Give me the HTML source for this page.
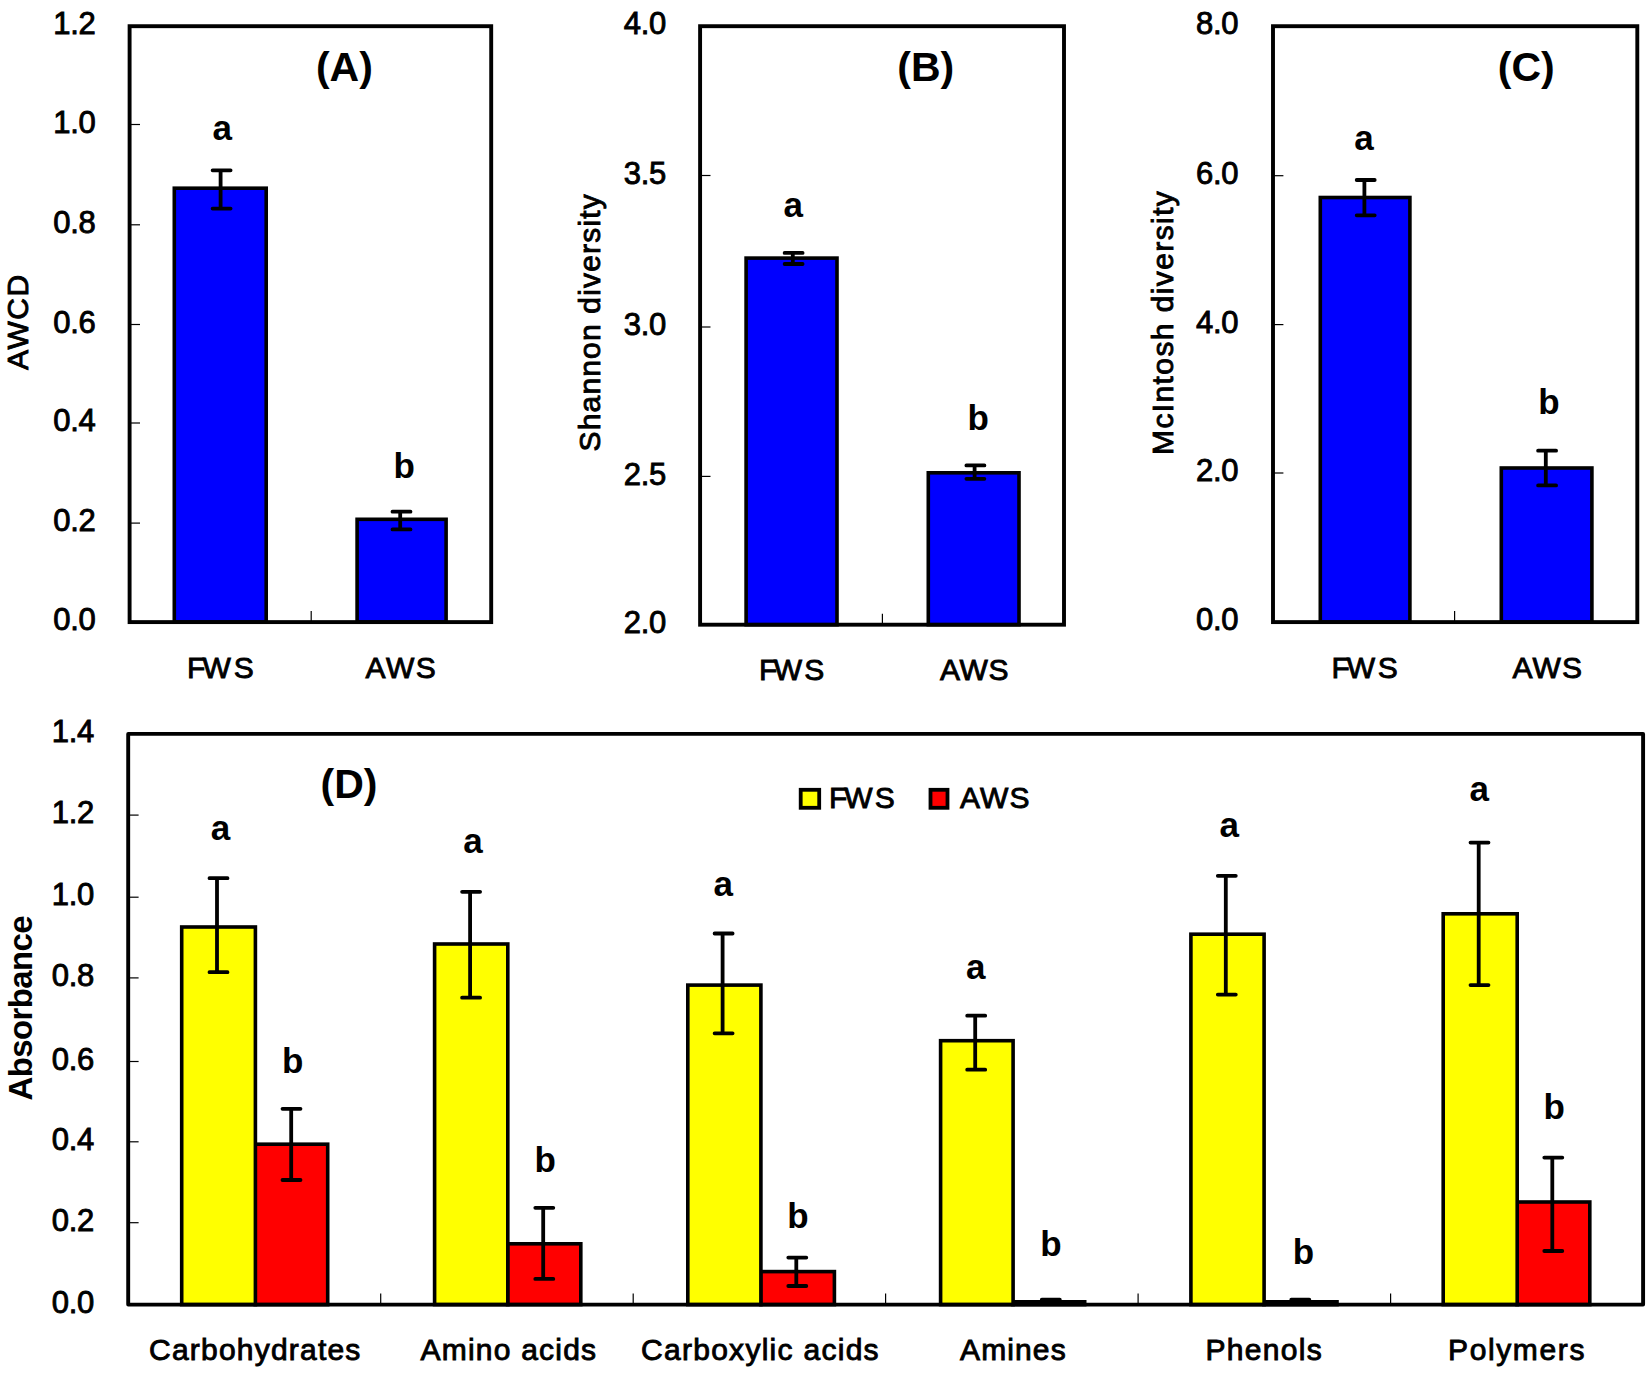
<!DOCTYPE html>
<html lang="en"><head><meta charset="utf-8"><title>Figure</title>
<style>
html,body{margin:0;padding:0;background:#fff;}
body{width:1650px;height:1378px;overflow:hidden;}
svg{display:block;}
svg text{font-family:"Liberation Sans",Arial,Helvetica,sans-serif;fill:#000;stroke:#000;stroke-width:0.9px;}
svg text.b{font-weight:bold;stroke:none;}
</style></head><body>
<svg width="1650" height="1378" viewBox="0 0 1650 1378">
<rect width="1650" height="1378" fill="#fff"/>
<line x1="129.6" y1="622.1" x2="140.0" y2="622.1" stroke="#000" stroke-width="1.2"/>
<text x="95.50" y="630.30" font-size="31" text-anchor="end" letter-spacing="-0.300">0.0</text>
<line x1="129.6" y1="523.1" x2="140.0" y2="523.1" stroke="#000" stroke-width="1.2"/>
<text x="95.50" y="531.30" font-size="31" text-anchor="end" letter-spacing="-0.300">0.2</text>
<line x1="129.6" y1="423.0" x2="140.0" y2="423.0" stroke="#000" stroke-width="1.2"/>
<text x="95.50" y="431.20" font-size="31" text-anchor="end" letter-spacing="-0.300">0.4</text>
<line x1="129.6" y1="324.5" x2="140.0" y2="324.5" stroke="#000" stroke-width="1.2"/>
<text x="95.50" y="332.70" font-size="31" text-anchor="end" letter-spacing="-0.300">0.6</text>
<line x1="129.6" y1="224.8" x2="140.0" y2="224.8" stroke="#000" stroke-width="1.2"/>
<text x="95.50" y="233.00" font-size="31" text-anchor="end" letter-spacing="-0.300">0.8</text>
<line x1="129.6" y1="124.5" x2="140.0" y2="124.5" stroke="#000" stroke-width="1.2"/>
<text x="95.50" y="132.70" font-size="31" text-anchor="end" letter-spacing="-0.300">1.0</text>
<line x1="129.6" y1="26.2" x2="140.0" y2="26.2" stroke="#000" stroke-width="1.2"/>
<text x="95.50" y="34.40" font-size="31" text-anchor="end" letter-spacing="-0.300">1.2</text>
<line x1="311.2" y1="611.1" x2="311.2" y2="622.1" stroke="#000" stroke-width="1.2"/>
<rect x="174.3" y="188.2" width="91.9" height="433.9" fill="#0000ff" stroke="#000" stroke-width="3.6"/>
<rect x="357.1" y="519.3" width="89.0" height="102.8" fill="#0000ff" stroke="#000" stroke-width="3.6"/>
<path d="M212.6 170.3H230.6M212.6 208.6H230.6M220.6 170.3V208.6" stroke="#000" stroke-width="3.8" stroke-linecap="round" fill="none"/>
<path d="M392.5 511.7H410.5M392.5 529.4H410.5M400.2 511.7V529.4" stroke="#000" stroke-width="3.8" stroke-linecap="round" fill="none"/>
<rect x="129.6" y="26.2" width="361.6" height="595.9" fill="none" stroke="#000" stroke-width="3.9"/>
<text x="222.20" y="139.90" font-size="35" text-anchor="middle" class="b">a</text>
<text x="404.20" y="478.00" font-size="35" text-anchor="middle" class="b">b</text>
<text x="344.40" y="81.40" font-size="41" text-anchor="middle" class="b">(A)</text>
<text x="187.00" y="678.30" font-size="30" text-anchor="start" dx="0 -2.8 2.8">FWS</text>
<text x="365.50" y="678.30" font-size="30" text-anchor="start" letter-spacing="1.500">AWS</text>
<text x="28.00" y="370.00" font-size="30" text-anchor="start" letter-spacing="1.534" transform="rotate(-90 28.00 370.00)">AWCD</text>
<line x1="700.1" y1="624.7" x2="710.5" y2="624.7" stroke="#000" stroke-width="1.2"/>
<text x="666.00" y="632.90" font-size="31" text-anchor="end" letter-spacing="-0.300">2.0</text>
<line x1="700.1" y1="476.4" x2="710.5" y2="476.4" stroke="#000" stroke-width="1.2"/>
<text x="666.00" y="484.60" font-size="31" text-anchor="end" letter-spacing="-0.300">2.5</text>
<line x1="700.1" y1="327.0" x2="710.5" y2="327.0" stroke="#000" stroke-width="1.2"/>
<text x="666.00" y="335.20" font-size="31" text-anchor="end" letter-spacing="-0.300">3.0</text>
<line x1="700.1" y1="175.5" x2="710.5" y2="175.5" stroke="#000" stroke-width="1.2"/>
<text x="666.00" y="183.70" font-size="31" text-anchor="end" letter-spacing="-0.300">3.5</text>
<line x1="700.1" y1="26.2" x2="710.5" y2="26.2" stroke="#000" stroke-width="1.2"/>
<text x="666.00" y="34.40" font-size="31" text-anchor="end" letter-spacing="-0.300">4.0</text>
<line x1="882.4" y1="613.7" x2="882.4" y2="624.7" stroke="#000" stroke-width="1.2"/>
<rect x="746.1" y="258.1" width="90.9" height="366.6" fill="#0000ff" stroke="#000" stroke-width="3.6"/>
<rect x="928.3" y="472.8" width="90.7" height="151.9" fill="#0000ff" stroke="#000" stroke-width="3.6"/>
<path d="M784.6 252.9H802.6M784.6 264.0H802.6M792.8 252.9V264.0" stroke="#000" stroke-width="3.8" stroke-linecap="round" fill="none"/>
<path d="M966.4 465.4H984.4M966.4 478.8H984.4M974.6 465.4V478.8" stroke="#000" stroke-width="3.8" stroke-linecap="round" fill="none"/>
<rect x="700.1" y="26.2" width="363.9" height="598.5" fill="none" stroke="#000" stroke-width="3.9"/>
<text x="793.20" y="217.20" font-size="35" text-anchor="middle" class="b">a</text>
<text x="978.20" y="429.50" font-size="35" text-anchor="middle" class="b">b</text>
<text x="925.70" y="81.10" font-size="41" text-anchor="middle" class="b">(B)</text>
<text x="759.00" y="679.90" font-size="30" text-anchor="start" letter-spacing="-0.700" dx="0 -2.8 2.8">FWS</text>
<text x="940.00" y="679.90" font-size="30" text-anchor="start" letter-spacing="0.700">AWS</text>
<text x="600.00" y="451.50" font-size="30" text-anchor="start" letter-spacing="1.174" transform="rotate(-90 600.00 451.50)">Shannon diversity</text>
<line x1="1273.0" y1="622.1" x2="1283.4" y2="622.1" stroke="#000" stroke-width="1.2"/>
<text x="1238.20" y="630.30" font-size="31" text-anchor="end" letter-spacing="-0.300">0.0</text>
<line x1="1273.0" y1="473.0" x2="1283.4" y2="473.0" stroke="#000" stroke-width="1.2"/>
<text x="1238.20" y="481.20" font-size="31" text-anchor="end" letter-spacing="-0.300">2.0</text>
<line x1="1273.0" y1="324.6" x2="1283.4" y2="324.6" stroke="#000" stroke-width="1.2"/>
<text x="1238.20" y="332.80" font-size="31" text-anchor="end" letter-spacing="-0.300">4.0</text>
<line x1="1273.0" y1="175.7" x2="1283.4" y2="175.7" stroke="#000" stroke-width="1.2"/>
<text x="1238.20" y="183.90" font-size="31" text-anchor="end" letter-spacing="-0.300">6.0</text>
<line x1="1273.0" y1="26.2" x2="1283.4" y2="26.2" stroke="#000" stroke-width="1.2"/>
<text x="1238.20" y="34.40" font-size="31" text-anchor="end" letter-spacing="-0.300">8.0</text>
<line x1="1454.6" y1="611.1" x2="1454.6" y2="622.1" stroke="#000" stroke-width="1.2"/>
<rect x="1320.3" y="197.5" width="89.6" height="424.6" fill="#0000ff" stroke="#000" stroke-width="3.6"/>
<rect x="1501.3" y="468.0" width="90.6" height="154.1" fill="#0000ff" stroke="#000" stroke-width="3.6"/>
<path d="M1356.7 180.0H1374.7M1356.7 215.3H1374.7M1364.4 180.0V215.3" stroke="#000" stroke-width="3.8" stroke-linecap="round" fill="none"/>
<path d="M1538.1 450.7H1556.1M1538.1 485.4H1556.1M1545.8 450.7V485.4" stroke="#000" stroke-width="3.8" stroke-linecap="round" fill="none"/>
<rect x="1273.0" y="26.2" width="364.3" height="595.9" fill="none" stroke="#000" stroke-width="3.9"/>
<text x="1364.00" y="149.50" font-size="35" text-anchor="middle" class="b">a</text>
<text x="1548.90" y="413.80" font-size="35" text-anchor="middle" class="b">b</text>
<text x="1526.30" y="81.10" font-size="41" text-anchor="middle" class="b">(C)</text>
<text x="1331.50" y="678.00" font-size="30" text-anchor="start" letter-spacing="-0.200" dx="0 -2.8 2.8">FWS</text>
<text x="1512.50" y="678.00" font-size="30" text-anchor="start" letter-spacing="1.100">AWS</text>
<text x="1172.50" y="455.00" font-size="30" text-anchor="start" letter-spacing="1.400" transform="rotate(-90 1172.50 455.00)">McIntosh diversity</text>
<line x1="128.2" y1="1304.6" x2="138.6" y2="1304.6" stroke="#000" stroke-width="1.2"/>
<text x="94.00" y="1312.80" font-size="31" text-anchor="end" letter-spacing="-0.300">0.0</text>
<line x1="128.2" y1="1222.7" x2="138.6" y2="1222.7" stroke="#000" stroke-width="1.2"/>
<text x="94.00" y="1230.90" font-size="31" text-anchor="end" letter-spacing="-0.300">0.2</text>
<line x1="128.2" y1="1141.8" x2="138.6" y2="1141.8" stroke="#000" stroke-width="1.2"/>
<text x="94.00" y="1150.00" font-size="31" text-anchor="end" letter-spacing="-0.300">0.4</text>
<line x1="128.2" y1="1061.5" x2="138.6" y2="1061.5" stroke="#000" stroke-width="1.2"/>
<text x="94.00" y="1069.70" font-size="31" text-anchor="end" letter-spacing="-0.300">0.6</text>
<line x1="128.2" y1="977.9" x2="138.6" y2="977.9" stroke="#000" stroke-width="1.2"/>
<text x="94.00" y="986.10" font-size="31" text-anchor="end" letter-spacing="-0.300">0.8</text>
<line x1="128.2" y1="897.2" x2="138.6" y2="897.2" stroke="#000" stroke-width="1.2"/>
<text x="94.00" y="905.40" font-size="31" text-anchor="end" letter-spacing="-0.300">1.0</text>
<line x1="128.2" y1="815.1" x2="138.6" y2="815.1" stroke="#000" stroke-width="1.2"/>
<text x="94.00" y="823.30" font-size="31" text-anchor="end" letter-spacing="-0.300">1.2</text>
<line x1="128.2" y1="733.9" x2="138.6" y2="733.9" stroke="#000" stroke-width="1.2"/>
<text x="94.00" y="742.10" font-size="31" text-anchor="end" letter-spacing="-0.300">1.4</text>
<line x1="380.7" y1="1293.6" x2="380.7" y2="1304.6" stroke="#000" stroke-width="1.2"/>
<line x1="633.2" y1="1293.6" x2="633.2" y2="1304.6" stroke="#000" stroke-width="1.2"/>
<line x1="885.6" y1="1293.6" x2="885.6" y2="1304.6" stroke="#000" stroke-width="1.2"/>
<line x1="1138.1" y1="1293.6" x2="1138.1" y2="1304.6" stroke="#000" stroke-width="1.2"/>
<line x1="1390.6" y1="1293.6" x2="1390.6" y2="1304.6" stroke="#000" stroke-width="1.2"/>
<rect x="255.2" y="1144.2" width="72.5" height="160.4" fill="#ff0000" stroke="#000" stroke-width="3.6"/>
<rect x="181.7" y="927.0" width="73.7" height="377.6" fill="#ffff00" stroke="#000" stroke-width="3.6"/>
<rect x="507.6" y="1243.8" width="73.2" height="60.8" fill="#ff0000" stroke="#000" stroke-width="3.6"/>
<rect x="434.6" y="944.0" width="73.2" height="360.6" fill="#ffff00" stroke="#000" stroke-width="3.6"/>
<rect x="760.7" y="1271.6" width="73.7" height="33.0" fill="#ff0000" stroke="#000" stroke-width="3.6"/>
<rect x="687.8" y="985.1" width="73.1" height="319.5" fill="#ffff00" stroke="#000" stroke-width="3.6"/>
<rect x="1012.9" y="1301.8" width="71.8" height="2.8" fill="#ff0000" stroke="#000" stroke-width="3.6"/>
<rect x="940.6" y="1040.7" width="72.5" height="263.9" fill="#ffff00" stroke="#000" stroke-width="3.6"/>
<rect x="1263.9" y="1301.8" width="73.1" height="2.8" fill="#ff0000" stroke="#000" stroke-width="3.6"/>
<rect x="1190.9" y="934.2" width="73.2" height="370.4" fill="#ffff00" stroke="#000" stroke-width="3.6"/>
<rect x="1517.0" y="1202.0" width="72.8" height="102.6" fill="#ff0000" stroke="#000" stroke-width="3.6"/>
<rect x="1443.2" y="913.8" width="74.0" height="390.8" fill="#ffff00" stroke="#000" stroke-width="3.6"/>
<path d="M209.5 878.2H227.5M209.5 972.2H227.5M217.0 878.2V972.2" stroke="#000" stroke-width="3.8" stroke-linecap="round" fill="none"/>
<path d="M282.5 1108.8H300.5M282.5 1180.0H300.5M291.2 1108.8V1180.0" stroke="#000" stroke-width="3.8" stroke-linecap="round" fill="none"/>
<path d="M462.1 891.8H480.1M462.1 997.7H480.1M470.1 891.8V997.7" stroke="#000" stroke-width="3.8" stroke-linecap="round" fill="none"/>
<path d="M535.3 1207.8H553.3M535.3 1278.9H553.3M543.2 1207.8V1278.9" stroke="#000" stroke-width="3.8" stroke-linecap="round" fill="none"/>
<path d="M714.6 933.5H732.6M714.6 1033.3H732.6M722.6 933.5V1033.3" stroke="#000" stroke-width="3.8" stroke-linecap="round" fill="none"/>
<path d="M788.3 1257.6H806.3M788.3 1286.0H806.3M796.3 1257.6V1286.0" stroke="#000" stroke-width="3.8" stroke-linecap="round" fill="none"/>
<path d="M967.2 1015.7H985.2M967.2 1069.7H985.2M975.2 1015.7V1069.7" stroke="#000" stroke-width="3.8" stroke-linecap="round" fill="none"/>
<path d="M1041.8 1299.6H1059.8M1041.8 1301.8H1059.8M1050.5 1299.6V1301.8" stroke="#000" stroke-width="3.8" stroke-linecap="round" fill="none"/>
<path d="M1217.8 875.8H1235.8M1217.8 994.6H1235.8M1225.8 875.8V994.6" stroke="#000" stroke-width="3.8" stroke-linecap="round" fill="none"/>
<path d="M1291.3 1299.6H1309.3M1291.3 1301.8H1309.3M1300.0 1299.6V1301.8" stroke="#000" stroke-width="3.8" stroke-linecap="round" fill="none"/>
<path d="M1470.5 842.6H1488.5M1470.5 985.1H1488.5M1478.7 842.6V985.1" stroke="#000" stroke-width="3.8" stroke-linecap="round" fill="none"/>
<path d="M1544.3 1157.6H1562.3M1544.3 1251.0H1562.3M1552.3 1157.6V1251.0" stroke="#000" stroke-width="3.8" stroke-linecap="round" fill="none"/>
<rect x="128.2" y="733.9" width="1514.9" height="570.7" fill="none" stroke="#000" stroke-width="3.9" stroke-linejoin="round"/>
<text x="220.40" y="839.90" font-size="35" text-anchor="middle" class="b">a</text>
<text x="473.00" y="852.70" font-size="35" text-anchor="middle" class="b">a</text>
<text x="723.20" y="895.90" font-size="35" text-anchor="middle" class="b">a</text>
<text x="975.70" y="979.00" font-size="35" text-anchor="middle" class="b">a</text>
<text x="1229.20" y="836.80" font-size="35" text-anchor="middle" class="b">a</text>
<text x="1479.20" y="801.20" font-size="35" text-anchor="middle" class="b">a</text>
<text x="292.70" y="1073.40" font-size="35" text-anchor="middle" class="b">b</text>
<text x="545.20" y="1172.00" font-size="35" text-anchor="middle" class="b">b</text>
<text x="798.00" y="1228.00" font-size="35" text-anchor="middle" class="b">b</text>
<text x="1051.00" y="1255.70" font-size="35" text-anchor="middle" class="b">b</text>
<text x="1303.50" y="1263.50" font-size="35" text-anchor="middle" class="b">b</text>
<text x="1554.20" y="1119.00" font-size="35" text-anchor="middle" class="b">b</text>
<text x="349.00" y="798.10" font-size="41" text-anchor="middle" class="b">(D)</text>
<rect x="800.7" y="789.8" width="18.5" height="18.0" fill="#ffff00" stroke="#000" stroke-width="3.8"/>
<rect x="930.5" y="789.8" width="17.0" height="18.0" fill="#ff0000" stroke="#000" stroke-width="3.8"/>
<text x="829.00" y="807.50" font-size="30" text-anchor="start" letter-spacing="-0.400" dx="0 -2.8 2.8">FWS</text>
<text x="960.00" y="807.50" font-size="30" text-anchor="start" letter-spacing="1.200">AWS</text>
<text x="149.00" y="1360.00" font-size="30" text-anchor="start" letter-spacing="1.216">Carbohydrates</text>
<text x="420.50" y="1360.00" font-size="30" text-anchor="start" letter-spacing="1.220">Amino acids</text>
<text x="641.00" y="1360.00" font-size="30" text-anchor="start" letter-spacing="1.280">Carboxylic acids</text>
<text x="960.00" y="1360.00" font-size="30" text-anchor="start" letter-spacing="1.120">Amines</text>
<text x="1205.50" y="1360.00" font-size="30" text-anchor="start" letter-spacing="1.300">Phenols</text>
<text x="1448.00" y="1360.00" font-size="30" text-anchor="start" letter-spacing="1.628">Polymers</text>
<text x="31.70" y="1100.50" font-size="33" text-anchor="start" class="b" letter-spacing="-0.621" transform="rotate(-90 31.70 1100.50)">Absorbance</text>
</svg>
</body></html>
